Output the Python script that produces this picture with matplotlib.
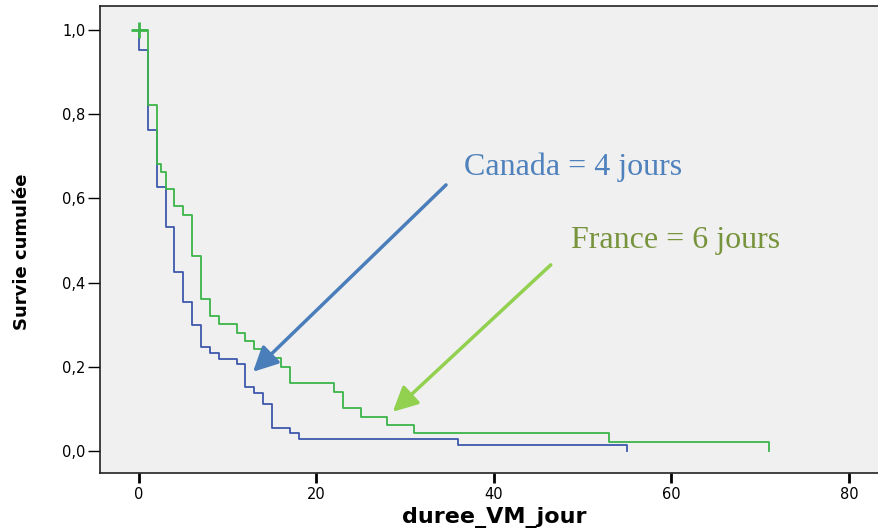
import matplotlib
matplotlib.use('Agg')
import matplotlib.pyplot as plt
from matplotlib.ticker import FuncFormatter

# Kaplan-Meier steps (time in days, survival after the step)
canada_t = [0, 0, 1, 2, 3, 4, 5, 6, 7, 8, 9, 11, 12, 13, 14, 15, 17, 18, 36, 55]
canada_s = [1.0, 0.952, 0.762, 0.626, 0.532, 0.424, 0.355, 0.299, 0.246, 0.232,
            0.219, 0.206, 0.151, 0.137, 0.111, 0.055, 0.042, 0.0285, 0.015, 0.0]

france_t = [0, 1, 2, 2.5, 3, 4, 5, 6, 7, 8, 9, 11, 12, 13, 14, 16, 17, 22, 23,
            25, 28, 31, 53, 71]
france_s = [1.0, 0.822, 0.682, 0.662, 0.622, 0.582, 0.561, 0.462, 0.361, 0.321,
            0.302, 0.281, 0.262, 0.242, 0.222, 0.200, 0.161, 0.141, 0.101, 0.081,
            0.062, 0.042, 0.022, 0.0]

censor_t = [0]
censor_s = [1.0]

x_ticks = [0, 20, 40, 60, 80]
y_ticks = [0.0, 0.2, 0.4, 0.6, 0.8, 1.0]

blue = '#3E58AC'
green = '#3CB54A'

fig = plt.figure(figsize=(8.79, 5.29), dpi=100)
ax = fig.add_axes([0.1132, 0.1059, 0.897, 0.8828])
ax.set_facecolor('#F0F0F0')

ax.step(canada_t, canada_s, where='post', color=blue, linewidth=1.3)
ax.step(france_t, france_s, where='post', color=green, linewidth=1.3)
ax.plot(censor_t, censor_s, linestyle='none', marker='+', color=green,
        markersize=11, markeredgewidth=2)

ax.set_xlim(-4.45, 84.4)
ax.set_ylim(-0.0523, 1.057)
ax.set_xticks(x_ticks)
ax.set_yticks(y_ticks)
ax.yaxis.set_major_formatter(FuncFormatter(lambda v, p: f'{v:.1f}'.replace('.', ',')))

for s in ax.spines.values():
    s.set_linewidth(1.2)
    s.set_color('#222222')
ax.spines['right'].set_visible(False)

ax.tick_params(axis='y', length=9, width=1.0, pad=1, labelsize=10.5)
ax.tick_params(axis='x', length=7, width=2.0, pad=3, labelsize=10.5)

fig.text(22 / 879, 1 - 252 / 529, 'Survie cumulée', rotation=90, ha='center',
         va='center', fontsize=13, fontweight='bold')
fig.text(494 / 879, 1 - 518 / 529, 'duree_VM_jour', ha='center', va='center',
         fontsize=16, fontweight='bold')

ax.text(36.6, 0.656, 'Canada = 4 jours', color='#4F81BD', fontsize=23,
        family='Liberation Serif', va='baseline')
ax.text(48.7, 0.482, 'France = 6 jours', color='#77933C', fontsize=23,
        family='Liberation Serif', va='baseline')

ax.annotate('', xy=(12.85, 0.188), xytext=(34.6, 0.632),
            arrowprops=dict(arrowstyle='-|>,head_length=1.0,head_width=0.5',
                            color='#4A7EBB', lw=2.5, mutation_scale=15,
                            shrinkA=0, shrinkB=0))
ax.annotate('', xy=(28.6, 0.093), xytext=(46.4, 0.442),
            arrowprops=dict(arrowstyle='-|>,head_length=1.0,head_width=0.5',
                            color='#92D050', lw=2.5, mutation_scale=15,
                            shrinkA=0, shrinkB=0))

fig.savefig('out.png', dpi=100)
